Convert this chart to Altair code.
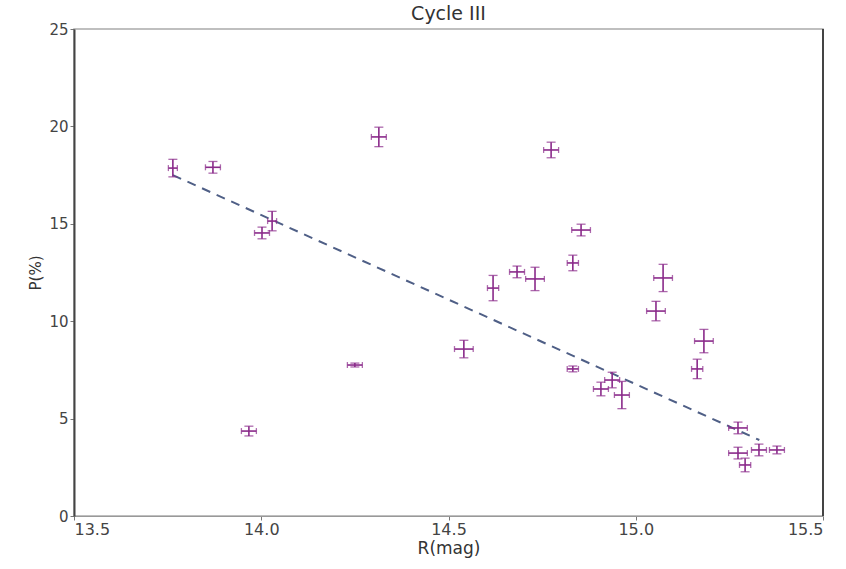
import altair as alt
import pandas as pd

# Data
r_mag = [13.764, 13.871, 14.002, 14.029, 14.314, 13.967, 14.250, 14.541, 14.619,
         14.683, 14.731, 14.774, 14.832, 14.854, 14.832, 14.907, 14.937, 14.963,
         15.054, 15.073, 15.164, 15.182, 15.273, 15.273, 15.292, 15.329, 15.377]
p_pct = [17.86, 17.90, 14.53, 15.14, 19.46, 4.36, 7.75, 8.57, 11.70,
         12.53, 12.17, 18.79, 12.99, 14.68, 7.55, 6.52, 6.98, 6.21,
         10.52, 12.22, 7.55, 8.98, 4.52, 3.23, 2.62, 3.39, 3.39]
r_err = [0.012, 0.020, 0.020, 0.012, 0.020, 0.020, 0.020, 0.025, 0.015,
         0.020, 0.025, 0.020, 0.015, 0.025, 0.015, 0.020, 0.020, 0.020,
         0.025, 0.025, 0.015, 0.025, 0.025, 0.025, 0.015, 0.020, 0.020]
p_err = [0.45, 0.30, 0.30, 0.50, 0.50, 0.25, 0.10, 0.45, 0.65,
         0.30, 0.60, 0.40, 0.40, 0.30, 0.15, 0.35, 0.40, 0.70,
         0.50, 0.70, 0.50, 0.60, 0.30, 0.30, 0.35, 0.30, 0.20]
fit_r = [13.764, 15.33]
fit_p = [17.5, 3.9]

x_label_values = [13.5, 14.0, 14.5, 15.0, 15.5]
y_label_values = [0, 5, 10, 15, 20, 25]
x_max = 15.5

df = pd.DataFrame({"x": r_mag, "y": p_pct, "xe": r_err, "ye": p_err})
df["xlo"] = df["x"] - df["xe"]
df["xhi"] = df["x"] + df["xe"]
df["ylo"] = df["y"] - df["ye"]
df["yhi"] = df["y"] + df["ye"]
fit = pd.DataFrame({"x": fit_r, "y": fit_p})

PURPLE = "#8a2a8a"
FONT = "DejaVu Sans"

xs = alt.Scale(domain=[13.5, 15.5], nice=False, zero=False)
ys = alt.Scale(domain=[0, 25], nice=False, zero=False)

xaxis = alt.Axis(values=x_label_values, format=".1f", title="R(mag)", grid=False,
                 labelFont=FONT, labelFontSize=16, labelColor="#444",
                 titleFont=FONT, titleFontSize=17, titleFontWeight="normal",
                 titleColor="#333", titlePadding=3, tickSize=4, tickColor="#777",
                 domainColor="#999", labelPadding=1)
yaxis = alt.Axis(values=y_label_values, format="d", title="P(%)", grid=False,
                 labelFont=FONT, labelFontSize=15, labelColor="#444",
                 titleFont=FONT, titleFontSize=15, titleFontWeight="normal",
                 titleColor="#333", titlePadding=5, tickSize=4, tickColor="#777",
                 domainColor="#444", domainWidth=2, labelPadding=2)

line = alt.Chart(fit).mark_line(color="#4f5f86", strokeWidth=2, strokeDash=[9, 7]).encode(
    x=alt.X("x:Q", scale=xs, axis=xaxis), y=alt.Y("y:Q", scale=ys, axis=yaxis)
)

base = alt.Chart(df)
vbar = base.mark_rule(color=PURPLE, strokeWidth=1.6).encode(
    x=alt.X("x:Q", scale=xs), y=alt.Y("ylo:Q", scale=ys), y2="yhi:Q"
)
hbar = base.mark_rule(color=PURPLE, strokeWidth=1.6).encode(
    x=alt.X("xlo:Q", scale=xs), x2="xhi:Q", y=alt.Y("y:Q", scale=ys)
)
cap_lo = base.mark_tick(color=PURPLE, orient="horizontal", size=9, thickness=1.3).encode(
    x=alt.X("x:Q", scale=xs), y=alt.Y("ylo:Q", scale=ys)
)
cap_hi = base.mark_tick(color=PURPLE, orient="horizontal", size=9, thickness=1.3).encode(
    x=alt.X("x:Q", scale=xs), y=alt.Y("yhi:Q", scale=ys)
)
cap_l = base.mark_tick(color=PURPLE, orient="vertical", size=6, thickness=1.3).encode(
    x=alt.X("xlo:Q", scale=xs), y=alt.Y("y:Q", scale=ys)
)
cap_r = base.mark_tick(color=PURPLE, orient="vertical", size=6, thickness=1.3).encode(
    x=alt.X("xhi:Q", scale=xs), y=alt.Y("y:Q", scale=ys)
)
right_edge = alt.Chart(fit).mark_rule(color="#444", strokeWidth=2).encode(
    x=alt.datum(x_max)
)

chart = alt.layer(line, vbar, hbar, cap_lo, cap_hi, cap_l, cap_r, right_edge).properties(
    width=749, height=487,
    title=alt.TitleParams("Cycle III", font=FONT, fontSize=19, fontWeight="normal",
                          color="#333", offset=-2),
    padding={"left": 74, "top": 29, "right": 23, "bottom": 53},
    autosize=alt.AutoSizeParams(type="none"),
).configure_view(stroke="#aaa", strokeWidth=1.5)

chart.save("out.html", embed_options={"renderer": "svg", "actions": False})
